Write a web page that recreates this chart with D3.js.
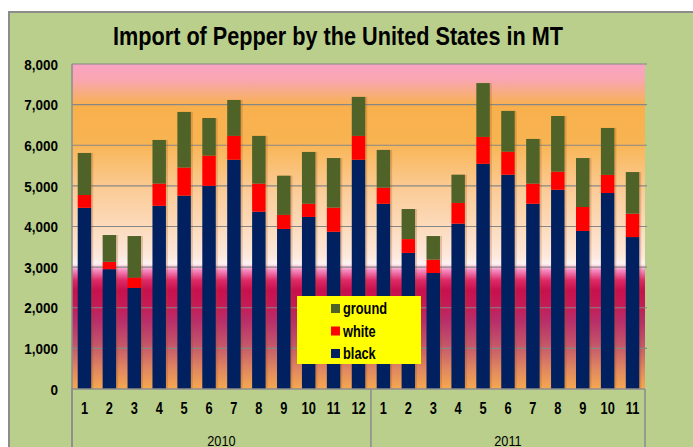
<!DOCTYPE html>
<html>
<head>
<meta charset="utf-8">
<script src="https://cdn.jsdelivr.net/npm/d3@7"></script>
<style>
  body { margin: 0; background: #fff; }
  svg text { font-family: "Liberation Sans", Arial, sans-serif; fill: #000; }
</style>
</head>
<body>
<div id="chart"></div>
<script>
// monthly imports, metric tonnes
var monthLabels = ["1","2","3","4","5","6","7","8","9","10","11","12",
                   "1","2","3","4","5","6","7","8","9","10","11"];
var yearLabels = ["2010", "2011"];
var yearCounts = [12, 11];
var black  = [4460,2950,2490,4510,4760,5000,5645,4365,3940,4235,3870,5645,
              4560,3350,2855,4070,5545,5275,4560,4905,3890,4825,3740];
var white  = [315,180,250,545,690,745,585,690,345,325,595,585,
              395,340,330,510,660,565,495,445,590,445,575];
var ground = [1035,660,1025,1075,1370,925,885,1175,965,1275,1220,960,
              930,740,580,695,1325,1005,1100,1370,1205,1155,1025];
var seriesNames = ["black", "white", "ground"];
var seriesColors = ["#00205f", "#ff0000", "#4f6228"];
var yTicks = [0,1000,2000,3000,4000,5000,6000,7000,8000];

var W = 693, H = 447;
var pLeft = 72, pRight = 645, pTop = 64, pBottom = 389;

var svg = d3.select("#chart").append("svg")
  .attr("width", W).attr("height", H);

// squeeze text horizontally, the original looks condensed
function squeeze(sel, f) {
  sel.each(function() {
    var w = this.getComputedTextLength();
    d3.select(this).attr("textLength", w * f).attr("lengthAdjust", "spacingAndGlyphs");
  });
}

// outer frame
svg.append("rect")
  .attr("x", 9).attr("y", 12).attr("width", W + 20).attr("height", H + 20)
  .style("fill", "#b9cf8b").style("stroke", "#8c8c8c").style("stroke-width", 2);

// plot background gradient
var defs = svg.append("defs");
var grad = defs.append("linearGradient").attr("id", "bg")
  .attr("x1", 0).attr("y1", 0).attr("x2", 0).attr("y2", 1);
[[0, "#f9a3c4"], [0.05, "#f9a6b0"], [0.1, "#f8ae72"], [0.13, "#f8b04c"],
 [0.24, "#f8b452"], [0.39, "#fbcc98"], [0.49, "#fcd9b8"], [0.59, "#fde8dc"],
 [0.615, "#fdf2f2"], [0.635, "#f58ac0"], [0.665, "#de2a68"], [0.695, "#c8104e"],
 [0.74, "#c51a55"], [0.79, "#b82e6a"], [0.865, "#c4566a"], [0.94, "#e08860"],
 [1, "#f6a850"]].forEach(function(s) {
  grad.append("stop").attr("offset", s[0]).attr("stop-color", s[1]);
});

var x = d3.scaleBand().domain(d3.range(monthLabels.length))
  .range([pLeft, pRight]).paddingInner(0.46).paddingOuter(0.23);
var y = d3.scaleLinear().domain([0, 8000]).range([pBottom, pTop]);

svg.append("rect")
  .attr("x", pLeft).attr("y", pTop).attr("width", pRight - pLeft).attr("height", pBottom - pTop)
  .style("fill", "url(#bg)");

// gridlines
svg.append("g").selectAll("line").data(yTicks.slice(1)).enter().append("line")
  .attr("x1", pLeft).attr("x2", pRight + 2)
  .attr("y1", d => y(d)).attr("y2", d => y(d))
  .style("stroke", "#878787").style("stroke-width", 1.2);

// stacked bars
var table = monthLabels.map(function(m, i) {
  return { i: i, black: black[i], white: white[i], ground: ground[i] };
});
var stack = d3.stack().keys(seriesNames)(table);

// soft shadow on right
svg.append("g").selectAll("rect").data(table).enter().append("rect")
  .attr("x", d => x(d.i) + 2)
  .attr("y", d => y(d.black + d.white + d.ground))
  .attr("width", x.bandwidth())
  .attr("height", d => y(0) - y(d.black + d.white + d.ground))
  .style("fill", "rgba(150,80,20,0.25)");

svg.append("g").selectAll("g").data(stack).enter().append("g")
  .style("fill", (d, i) => seriesColors[i])
  .selectAll("rect").data(d => d).enter().append("rect")
  .attr("x", d => x(d.data.i))
  .attr("y", d => y(d[1]))
  .attr("width", x.bandwidth())
  .attr("height", d => y(d[0]) - y(d[1]));

// y axis
var yAxis = svg.append("g").attr("transform", "translate(" + pLeft + ",0)")
  .call(d3.axisLeft(y).tickValues(yTicks).tickFormat(d3.format(",")).tickSize(0).tickPadding(14));
yAxis.select(".domain").remove();
yAxis.selectAll("text")
  .style("font-size", "14.5px").style("font-weight", "bold").attr("dy", "0.36em");
squeeze(yAxis.selectAll("text"), 0.93);

// axis lines
var axisCol = "#8c8c8c";
svg.append("line").attr("x1", pLeft).attr("x2", pLeft).attr("y1", pTop).attr("y2", H)
  .style("stroke", axisCol).style("stroke-width", 1.5);
svg.append("line").attr("x1", pLeft).attr("x2", pRight).attr("y1", pBottom).attr("y2", pBottom)
  .style("stroke", axisCol).style("stroke-width", 1.5);

// month labels
var xAxis = svg.append("g").attr("transform", "translate(0," + pBottom + ")")
  .call(d3.axisBottom(x).tickFormat(i => monthLabels[i]).tickSize(0).tickPadding(14));
xAxis.select(".domain").remove();
xAxis.selectAll("text").style("font-size", "16px").style("font-weight", "bold").attr("dy", "0.71em");
squeeze(xAxis.selectAll("text"), 0.8);

// year groups
var bounds = [0];
yearCounts.forEach(function(c, i) { bounds.push(bounds[i] + c); });
function edge(k) { return pLeft + (k / monthLabels.length) * (pRight - pLeft); }
svg.append("g").selectAll("line").data(bounds).enter().append("line")
  .attr("x1", d => edge(d)).attr("x2", d => edge(d))
  .attr("y1", pBottom).attr("y2", H)
  .style("stroke", axisCol).style("stroke-width", 1.5);
var yr = svg.append("g").selectAll("text").data(yearLabels).enter().append("text")
  .attr("x", (d, i) => (edge(bounds[i]) + edge(bounds[i + 1])) / 2)
  .attr("y", 446)
  .attr("text-anchor", "middle")
  .style("font-size", "15px")
  .text(d => d);
squeeze(yr, 0.85);

// title
svg.append("text")
  .attr("x", 338).attr("y", 45)
  .attr("text-anchor", "middle")
  .attr("textLength", 450).attr("lengthAdjust", "spacingAndGlyphs")
  .style("font-size", "25px").style("font-weight", "bold")
  .text("Import of Pepper by the United States in MT");

// legend
var legend = svg.append("g");
legend.append("rect").attr("x", 297).attr("y", 296).attr("width", 124).attr("height", 68)
  .style("fill", "#ffff00");
var legendOrder = [2, 1, 0];
var items = legend.selectAll("g.item").data(legendOrder).enter().append("g")
  .attr("transform", (d, i) => "translate(331," + (304 + i * 22.5) + ")");
items.append("rect").attr("width", 9).attr("height", 9)
  .style("fill", d => seriesColors[d]);
var lt = items.append("text").attr("x", 12).attr("y", 4.5).attr("dy", "0.36em")
  .style("font-size", "16px").style("font-weight", "bold")
  .text(d => seriesNames[d]);
squeeze(lt, 0.8);
</script>
</body>
</html>
